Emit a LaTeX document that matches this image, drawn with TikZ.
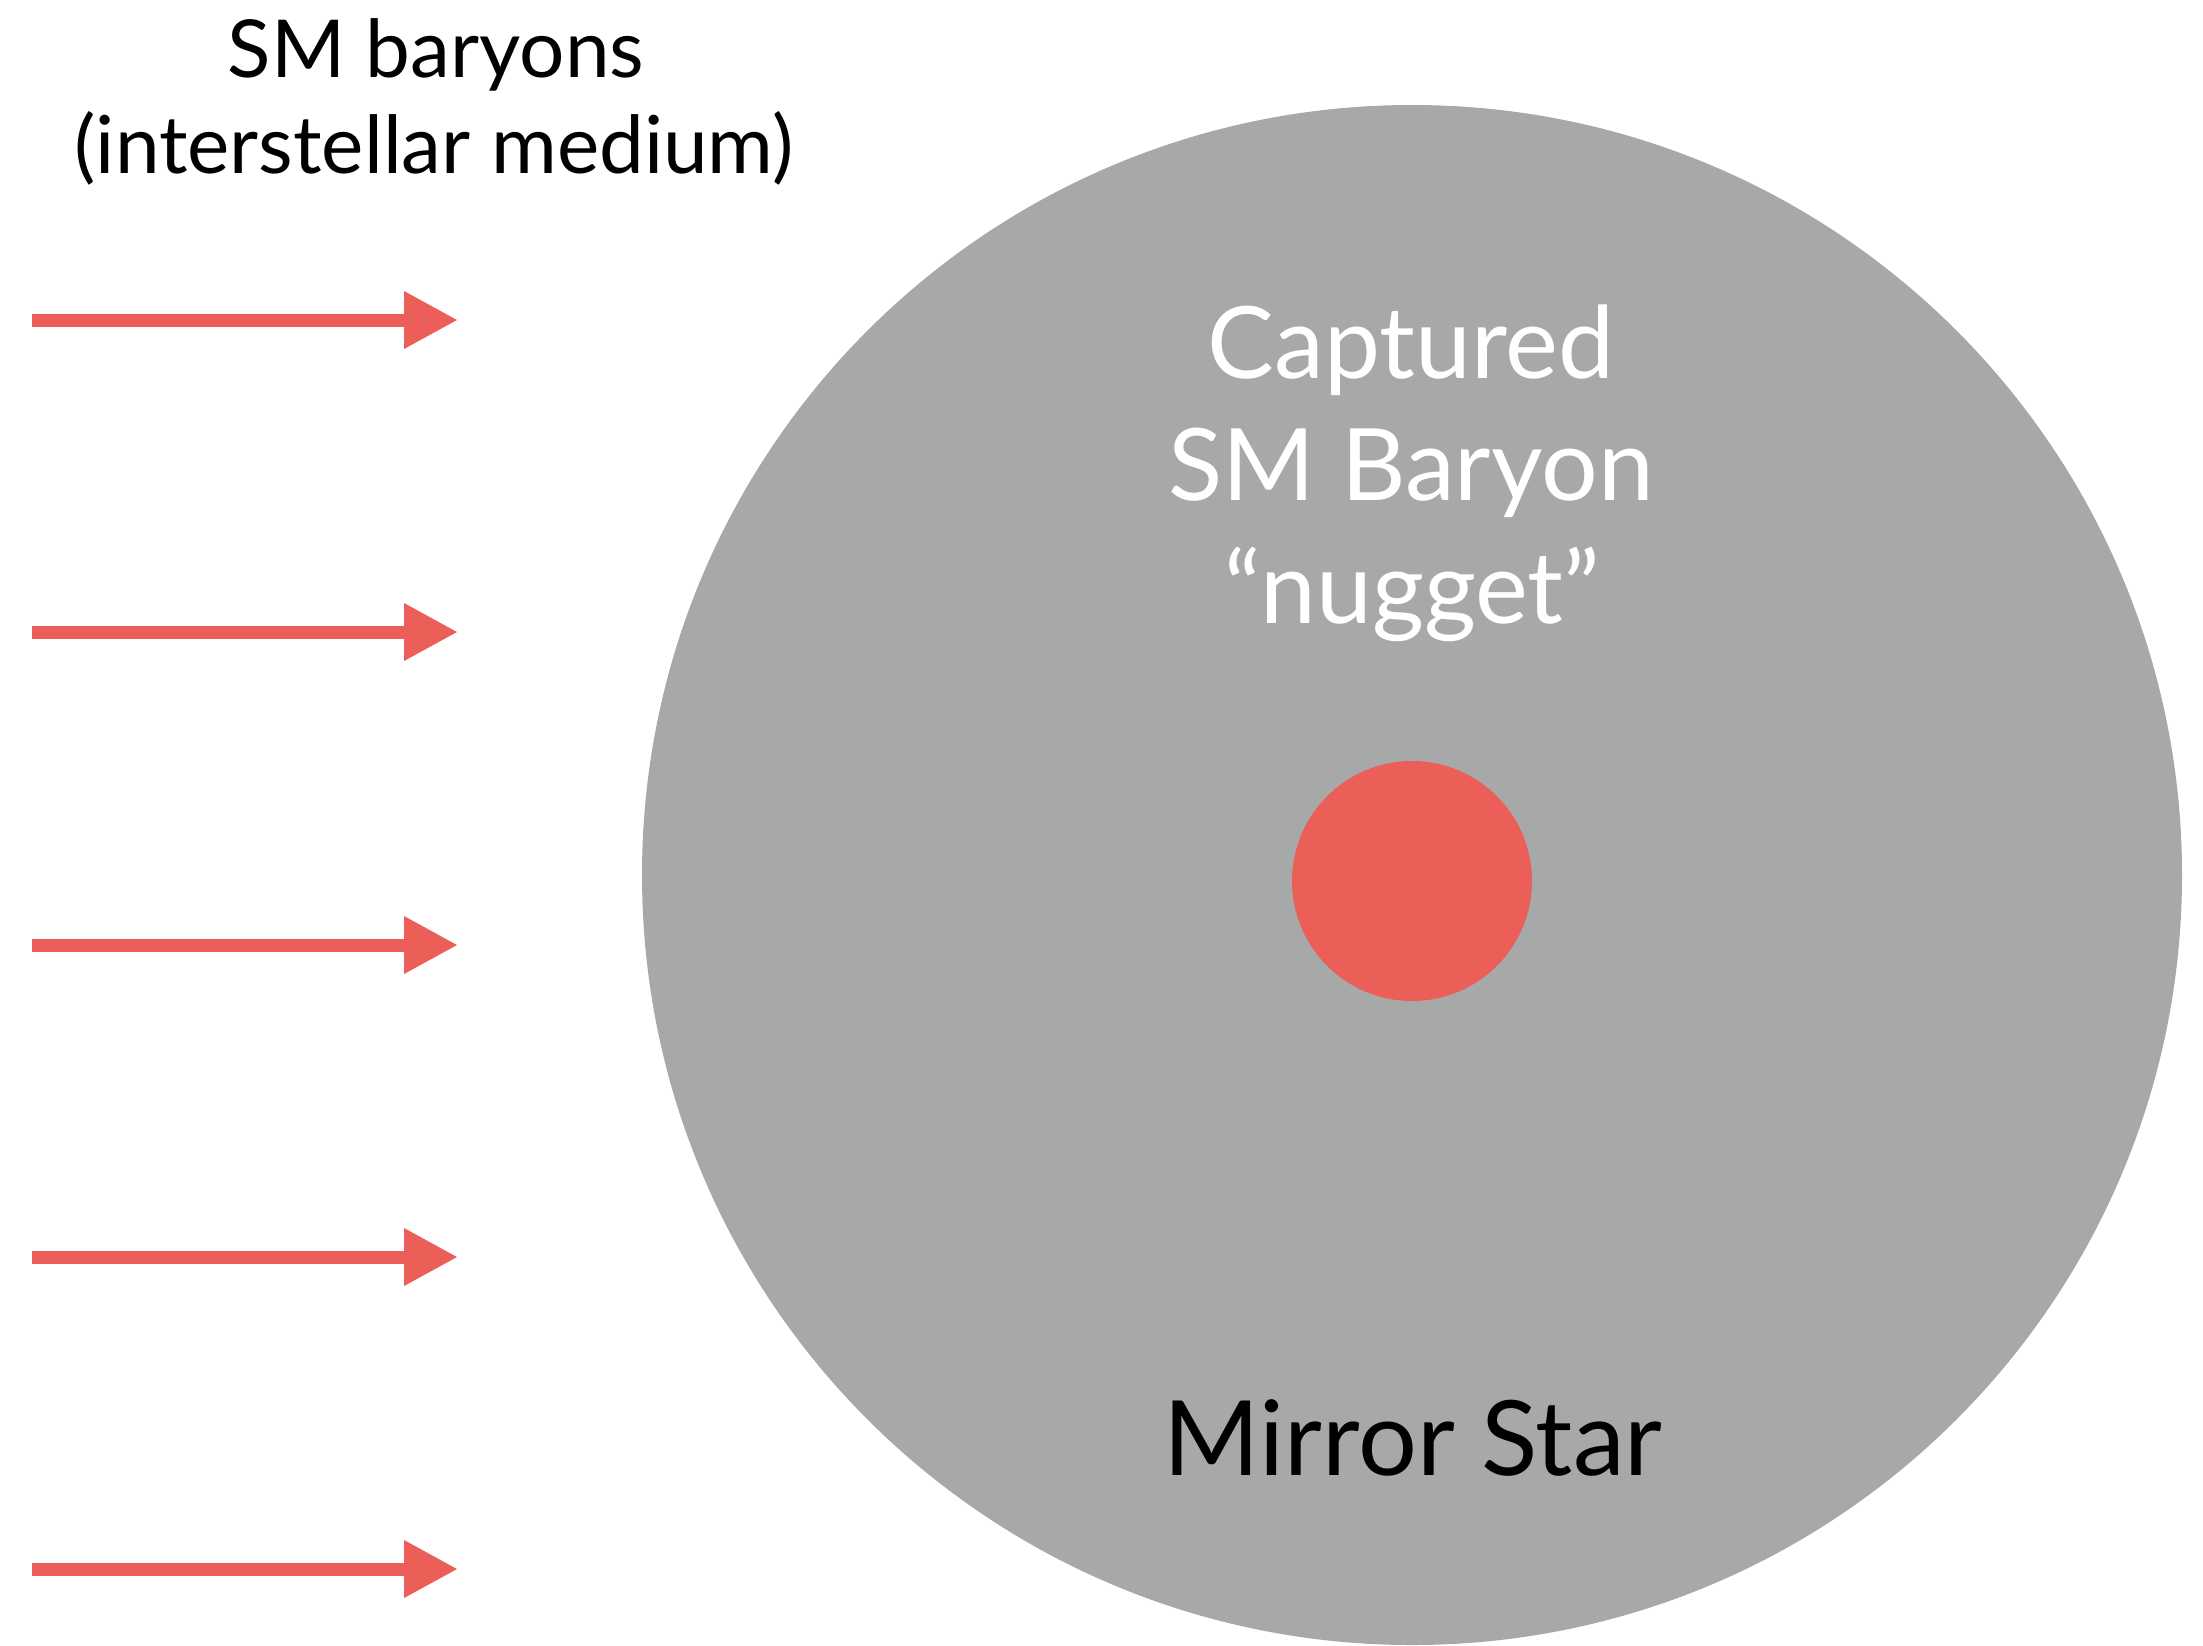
\documentclass[tikz,border=0pt]{standalone}
\usepackage{fontspec}
\setmainfont{Lato}
\usetikzlibrary{arrows.meta}
\definecolor{stargray}{RGB}{166,169,168}
\definecolor{nuggetred}{RGB}{236,94,88}
\tikzset{
  baryonarrow/.style={draw=nuggetred, line width=6.5pt, -{Triangle[length=27pt,width=27pt]}},
  toplabel/.style={anchor=base, inner sep=0pt, font=\fontsize{40pt}{50pt}\selectfont, text=black},
  innerlabel/.style={anchor=base, inner sep=0pt, font=\fontsize{50pt}{61pt}\selectfont, text=white},
  starlabel/.style={anchor=base, inner sep=0pt, font=\fontsize{52pt}{64pt}\selectfont, text=black},
}
\begin{document}
\begin{tikzpicture}[x=0.5pt,y=-0.5pt]
\useasboundingbox (0,0) rectangle (2203,1645);
% mirror star
\node (star) [circle, fill=stargray, minimum size=770pt, inner sep=0pt] at (1412,875) {};
% captured nugget
\node (nugget) [circle, fill=nuggetred, minimum size=120pt, inner sep=0pt] at (1412,881) {};
% labels
\node (top1) [toplabel] at (436,77) {SM baryons};
\node (top2) [toplabel] at (434,173) {(interstellar medium)};
\node (cap1) [innerlabel] at (1411,378) {Captured};
\node (cap2) [innerlabel] at (1411,500) {SM Baryon};
\node (cap3) [innerlabel] at (1412,623) {“nugget”};
\node (mirror) [starlabel] at (1413,1475) {Mirror Star};
% incoming baryon arrows
\foreach \i/\y in {1/320,2/632,3/945,4/1257,5/1569}{
  \coordinate (s\i) at (32,\y);
  \coordinate (e\i) at (458,\y);
  \draw[baryonarrow] (s\i) -- (e\i);
}
\end{tikzpicture}
\end{document}
